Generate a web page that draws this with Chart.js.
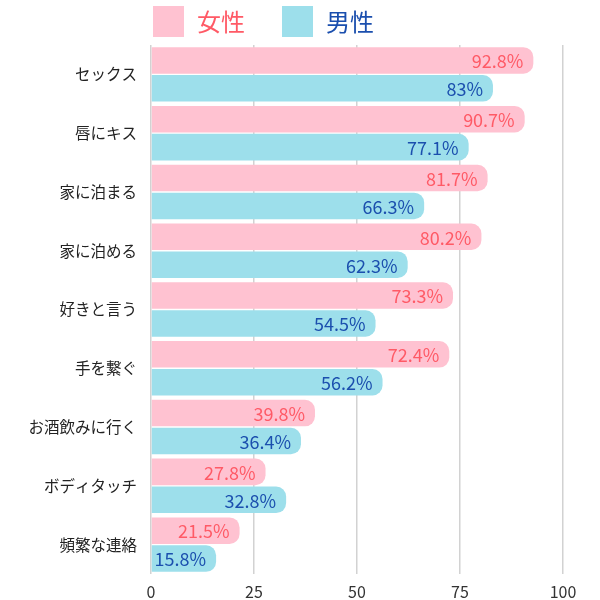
<!DOCTYPE html>
<html>
<head>
<meta charset="utf-8">
<script src="https://cdn.jsdelivr.net/npm/chart.js@4/dist/chart.umd.min.js"></script>
<style>
  html, body { margin: 0; padding: 0; background: #ffffff; }
  #wrap { width: 600px; height: 600px; position: relative; }
</style>
</head>
<body>
<div id="wrap"><canvas id="c" width="600" height="600"></canvas></div>
<script>
const categories = ['セックス', '唇にキス', '家に泊まる', '家に泊める', '好きと言う', '手を繋ぐ', 'お酒飲みに行く', 'ボディタッチ', '頻繁な連絡'];
const seriesNames = ['女性', '男性'];
const femaleValues = [92.8, 90.7, 81.7, 80.2, 73.3, 72.4, 39.8, 27.8, 21.5];
const maleValues = [83, 77.1, 66.3, 62.3, 54.5, 56.2, 36.4, 32.8, 15.8];
const xTicks = [0, 25, 50, 75, 100];

const barColors = ['#ffc2d1', '#9ddfeb'];
const textColors = ['#ff5a66', '#1b4fae'];
const FONT = "'Noto Sans CJK JP', 'Noto Sans', sans-serif";

const valueLabels = {
  id: 'valueLabels',
  afterDatasetsDraw(chart) {
    const ctx = chart.ctx;
    ctx.save();
    ctx.font = '18px ' + FONT;
    ctx.textAlign = 'right';
    ctx.textBaseline = 'middle';
    chart.data.datasets.forEach((ds, di) => {
      const meta = chart.getDatasetMeta(di);
      meta.data.forEach((bar, i) => {
        ctx.fillStyle = textColors[di];
        ctx.fillText(ds.data[i] + '%', bar.x - 10, bar.y + 1);
      });
    });
    ctx.restore();
  }
};

const topLegend = {
  id: 'topLegend',
  afterDraw(chart) {
    const ctx = chart.ctx;
    ctx.save();
    ctx.font = '24px ' + FONT;
    ctx.textBaseline = 'middle';
    ctx.textAlign = 'left';
    let x = 153;
    chart.data.datasets.forEach((ds, di) => {
      ctx.fillStyle = barColors[di];
      ctx.fillRect(x, 6, 31, 31);
      ctx.fillStyle = textColors[di];
      ctx.fillText(ds.label, x + 44, 22);
      x += 44 + ctx.measureText(ds.label).width + 37;
    });
    ctx.restore();
  }
};

new Chart(document.getElementById('c'), {
  type: 'bar',
  data: {
    labels: categories,
    datasets: [
      { label: seriesNames[0], data: femaleValues, backgroundColor: barColors[0], borderRadius: 10, categoryPercentage: 0.95, barPercentage: 0.95 },
      { label: seriesNames[1], data: maleValues, backgroundColor: barColors[1], borderRadius: 10, categoryPercentage: 0.95, barPercentage: 0.95 }
    ]
  },
  options: {
    indexAxis: 'y',
    responsive: false,
    animation: false,
    devicePixelRatio: 1,
    layout: { padding: { top: 45, right: 37, left: 0, bottom: 0 } },
    plugins: {
      legend: { display: false },
      tooltip: { enabled: false }
    },
    scales: {
      x: {
        min: 0,
        max: 100,
        afterBuildTicks(scale) { scale.ticks = xTicks.map(v => ({ value: v })); },
        afterFit(scale) { scale.height = 26; },
        border: { display: false },
        grid: { color: '#d2d2d2', lineWidth: 1.5, drawTicks: false },
        ticks: { padding: 8, color: '#333333', font: { family: FONT, size: 16 } }
      },
      y: {
        afterFit(scale) { scale.width = 151; },
        border: { display: false },
        grid: { display: false, drawTicks: false },
        ticks: { padding: 14, color: '#222222', font: { family: FONT, size: 15.5 } }
      }
    }
  },
  plugins: [valueLabels, topLegend]
});
</script>
</body>
</html>
